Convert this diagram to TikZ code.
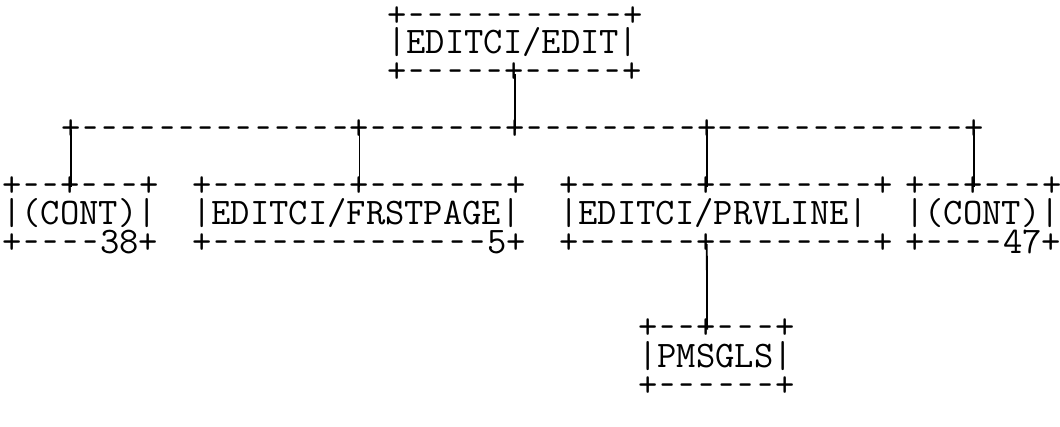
\documentclass[tikz,border=0pt]{standalone}
\usepackage{fontspec}
\usepackage{graphicx}
\newcommand\tfont{\ttfamily\fontsize{37.5}{37.5}\selectfont}
% a hyphen one character cell wide, drawn a little shorter
\newcommand\h{\makebox[0.525em][c]{\scalebox{0.74}[1]{-}}}
\newcommand\hb{\makebox[13pt][c]{\scalebox{0.74}[1]{-}}}
\tikzset{
  asc/.style={font=\tfont, inner sep=0pt, outer sep=0pt, anchor=base west,
              text height=20pt, text depth=0pt},
  hy/.style={font=\tfont, inner sep=0pt, outer sep=0pt, anchor=base,
             text height=20pt, text depth=0pt},
  conn/.style={line width=1.8pt},
}
\begin{document}
\begin{tikzpicture}[x=1pt,y=-1pt]
\useasboundingbox (0,0) rectangle (1060,427);
% EDITCI/EDIT
\node[asc] (editT) at (387.2,26.5) {+\h\h\h\h\h\h\h\h\h\h\h+};
\node[asc] (edit)  at (387.2,54)   {|EDITCI/EDIT|};
\node[asc] (editB) at (387.2,82.5) {+\h\h\h\h\h+\h\h\h\h\h+};
% left CONT
\node[asc] (contAT) at (2.2,196.5) {+\h\h+\h\h\h+};
\node[asc] (contA)  at (2.2,225)   {|(CONT)|};
\node[asc] (contAB) at (2.2,253.5) {+\h\h\h\h38+};
% FRSTPAGE
\node[asc] (frstT) at (192.2,196.5) {+\h\h\h\h\h\h\h+\h\h\h\h\h\h\h+};
\node[asc] (frst)  at (192.2,225)   {|EDITCI/FRSTPAGE|};
\node[asc] (frstB) at (192.2,253.5) {+\h\h\h\h\h\h\h\h\h\h\h\h\h\h5+};
% PRVLINE
\node[asc] (prvT) at (559.2,196.5) {+\h\h\h\h\h\h+\h\h\h\h\h\h\h\h+};
\node[asc] (prv)  at (559.2,225)   {|EDITCI/PRVLINE|};
\node[asc] (prvB) at (559.2,253.5) {+\h\h\h\h\h\h+\h\h\h\h\h\h\h\h+};
% right CONT
\node[asc] (contBT) at (905.2,196.5) {+\h\h+\h\h\h+};
\node[asc] (contB)  at (905.2,225)   {|(CONT)|};
\node[asc] (contBB) at (905.2,253.5) {+\h\h\h\h47+};
% PMSGLS
\node[asc] (pmsT) at (638.2,339)   {+\h\h+\h\h\h+};
\node[asc] (pms)  at (638.2,367.5) {|PMSGLS|};
\node[asc] (pmsB) at (638.2,396)   {+\h\h\h\h\h\h+};
% bus junctions
\node[hy] (b1) at (71.1,139.5)  {+};
\node[hy] (b2) at (359.5,139.5) {+};
\node[hy] (b3) at (515.1,139.5) {+};
\node[hy] (b4) at (706.8,139.5) {+};
\node[hy] (b5) at (974.1,139.5) {+};
% bus dashes
\foreach \xa/\xb/\n/\s in {71.1/359.5/14/a, 359.5/515.1/7/b, 515.1/706.8/9/c, 706.8/974.1/13/d}
  \foreach \k in {1,...,\n}{
    \pgfmathsetmacro\xx{\xa+(\xb-\xa)*\k/(\n+1)}
    \node[hy] (h\s\k) at (\xx,139.5) {\hb};
  }
% junction points
\coordinate (jEdit) at (515.1,74);
\coordinate (j1) at (71.1,130.1);
\coordinate (j2) at (359.5,130.1);
\coordinate (j3) at (515.1,130.1);
\coordinate (j4) at (706.8,130.1);
\coordinate (j5) at (974.1,130.1);
\coordinate (tA) at (71.1,187.1);
\coordinate (tF) at (359.5,187.1);
\coordinate (tP) at (706.8,187.1);
\coordinate (tB) at (974.1,187.1);
\coordinate (prvJ) at (706.8,244.1);
\coordinate (pmsJ) at (707.1,329.6);
% connectors
\draw[conn] (jEdit) -- (j3);
\draw[conn] (j1) -- (tA);
\draw[conn] (j2) -- (tF);
\draw[conn] (j4) -- (tP);
\draw[conn] (j5) -- (tB);
\draw[conn] (prvJ) -- (pmsJ);
\end{tikzpicture}
\end{document}
